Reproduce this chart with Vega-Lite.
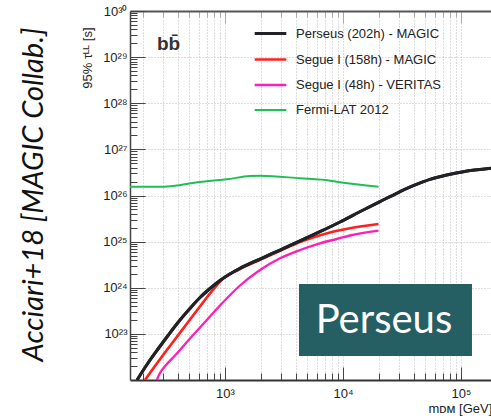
{
  "$schema": "https://vega.github.io/schema/vega-lite/v6.json",
  "width": 361,
  "height": 369,
  "autosize": {"type": "none"},
  "padding": {"left": 130, "top": 11, "right": 0, "bottom": 38},
  "background": "white",
  "config": {"view": {"stroke": null}, "font": "Liberation Sans"},
  "resolve": {"axis": {"x": "independent", "y": "independent"}},
  "datasets": {
    "curves": [
      {"s": "Fermi-LAT 2012", "m": 156.7, "t": 1.552e26},
      {"s": "Fermi-LAT 2012", "m": 300, "t": 1.552e26},
      {"s": "Fermi-LAT 2012", "m": 614, "t": 1.963e26},
      {"s": "Fermi-LAT 2012", "m": 1033, "t": 2.244e26},
      {"s": "Fermi-LAT 2012", "m": 1629, "t": 2.649e26},
      {"s": "Fermi-LAT 2012", "m": 1982, "t": 2.685e26},
      {"s": "Fermi-LAT 2012", "m": 4325, "t": 2.36e26},
      {"s": "Fermi-LAT 2012", "m": 7762, "t": 2.094e26},
      {"s": "Fermi-LAT 2012", "m": 9441, "t": 1.932e26},
      {"s": "Fermi-LAT 2012", "m": 20000, "t": 1.552e26},
      {"s": "Segue I (48h) - VERITAS", "m": 263.8, "t": 1e22},
      {"s": "Segue I (48h) - VERITAS", "m": 281.3, "t": 1.418e22},
      {"s": "Segue I (48h) - VERITAS", "m": 316.2, "t": 2.114e22},
      {"s": "Segue I (48h) - VERITAS", "m": 376.9, "t": 3.396e22},
      {"s": "Segue I (48h) - VERITAS", "m": 505.0, "t": 7.943e22},
      {"s": "Segue I (48h) - VERITAS", "m": 676.8, "t": 1.809e23},
      {"s": "Segue I (48h) - VERITAS", "m": 907.2, "t": 4.121e23},
      {"s": "Segue I (48h) - VERITAS", "m": 1340, "t": 1.119e24},
      {"s": "Segue I (48h) - VERITAS", "m": 1980, "t": 2.425e24},
      {"s": "Segue I (48h) - VERITAS", "m": 2925, "t": 4.35e24},
      {"s": "Segue I (48h) - VERITAS", "m": 4322, "t": 6.583e24},
      {"s": "Segue I (48h) - VERITAS", "m": 6384, "t": 9.196e24},
      {"s": "Segue I (48h) - VERITAS", "m": 8843, "t": 1.14e25},
      {"s": "Segue I (48h) - VERITAS", "m": 11460, "t": 1.357e25},
      {"s": "Segue I (48h) - VERITAS", "m": 20000, "t": 1.726e25},
      {"s": "Segue I (158h) - MAGIC", "m": 209.9, "t": 1e22},
      {"s": "Segue I (158h) - MAGIC", "m": 255.2, "t": 2.012e22},
      {"s": "Segue I (158h) - MAGIC", "m": 310.0, "t": 3.945e22},
      {"s": "Segue I (158h) - MAGIC", "m": 384.3, "t": 8.139e22},
      {"s": "Segue I (158h) - MAGIC", "m": 476.4, "t": 1.678e23},
      {"s": "Segue I (158h) - MAGIC", "m": 590.4, "t": 3.462e23},
      {"s": "Segue I (158h) - MAGIC", "m": 717.8, "t": 6.625e23},
      {"s": "Segue I (158h) - MAGIC", "m": 823.0, "t": 1.012e24},
      {"s": "Segue I (158h) - MAGIC", "m": 907.2, "t": 1.366e24},
      {"s": "Segue I (158h) - MAGIC", "m": 1340, "t": 2.55e24},
      {"s": "Segue I (158h) - MAGIC", "m": 1980, "t": 4.036e24},
      {"s": "Segue I (158h) - MAGIC", "m": 2925, "t": 6.324e24},
      {"s": "Segue I (158h) - MAGIC", "m": 4322, "t": 9.817e24},
      {"s": "Segue I (158h) - MAGIC", "m": 5570, "t": 1.229e25},
      {"s": "Segue I (158h) - MAGIC", "m": 7760, "t": 1.577e25},
      {"s": "Segue I (158h) - MAGIC", "m": 11460, "t": 1.945e25},
      {"s": "Segue I (158h) - MAGIC", "m": 20000, "t": 2.41e25},
      {"s": "Perseus (202h) - MAGIC", "m": 179.6, "t": 1e22},
      {"s": "Perseus (202h) - MAGIC", "m": 222.6, "t": 2.336e22},
      {"s": "Perseus (202h) - MAGIC", "m": 270.5, "t": 4.699e22},
      {"s": "Perseus (202h) - MAGIC", "m": 328.8, "t": 9.226e22},
      {"s": "Perseus (202h) - MAGIC", "m": 399.6, "t": 1.766e23},
      {"s": "Perseus (202h) - MAGIC", "m": 495.4, "t": 3.373e23},
      {"s": "Perseus (202h) - MAGIC", "m": 614.0, "t": 6.152e23},
      {"s": "Perseus (202h) - MAGIC", "m": 746.4, "t": 9.638e23},
      {"s": "Perseus (202h) - MAGIC", "m": 907.2, "t": 1.435e24},
      {"s": "Perseus (202h) - MAGIC", "m": 1340, "t": 2.642e24},
      {"s": "Perseus (202h) - MAGIC", "m": 1980, "t": 4.198e24},
      {"s": "Perseus (202h) - MAGIC", "m": 2925, "t": 6.577e24},
      {"s": "Perseus (202h) - MAGIC", "m": 4322, "t": 1.033e25},
      {"s": "Perseus (202h) - MAGIC", "m": 6384, "t": 1.641e25},
      {"s": "Perseus (202h) - MAGIC", "m": 9432, "t": 2.661e25},
      {"s": "Perseus (202h) - MAGIC", "m": 14860, "t": 4.853e25},
      {"s": "Perseus (202h) - MAGIC", "m": 20590, "t": 7.345e25},
      {"s": "Perseus (202h) - MAGIC", "m": 28520, "t": 1.117e26},
      {"s": "Perseus (202h) - MAGIC", "m": 39430, "t": 1.629e26},
      {"s": "Perseus (202h) - MAGIC", "m": 54610, "t": 2.244e26},
      {"s": "Perseus (202h) - MAGIC", "m": 75650, "t": 2.78e26},
      {"s": "Perseus (202h) - MAGIC", "m": 104600, "t": 3.281e26},
      {"s": "Perseus (202h) - MAGIC", "m": 179600, "t": 3.89e26}
    ]
  },
  "layer": [
    {
      "data": {"values": [{"m1": 4236, "m2": 123900, "t1": 3.311e22, "t2": 1.205e24}]},
      "mark": {"type": "rect", "color": "#255e63"},
      "encoding": {
        "x": {"field": "m1", "type": "quantitative", "scale": {"type": "log", "domain": [156.6, 179600], "nice": false},
          "axis": {"orient": "top", "title": null, "labels": false, "grid": false,
            "values": [200,300,400,500,600,700,800,900,1000,2000,3000,4000,5000,6000,7000,8000,9000,10000,20000,30000,40000,50000,60000,70000,80000,90000,100000],
            "tickSize": {"condition": {"test": "abs(log(datum.value)/LN10 - round(log(datum.value)/LN10)) < 0.01", "value": -12}, "value": -6},
            "tickColor": "#aaaaaa", "tickWidth": 1, "domainColor": "#555555", "domainWidth": 2}},
        "x2": {"field": "m2"},
        "y": {"field": "t1", "type": "quantitative", "scale": {"type": "log", "domain": [1e22, 1e30], "nice": false}, "axis": null},
        "y2": {"field": "t2"}
      }
    },
    {
      "data": {"name": "curves"},
      "mark": {"type": "line", "clip": true, "interpolate": "monotone"},
      "encoding": {
        "x": {"field": "m", "type": "quantitative", "scale": {"type": "log", "domain": [156.6, 179600], "nice": false},
          "axis": {"orient": "bottom", "title": "mᴅᴍ [GeV]",
            "values": [200,300,400,500,600,700,800,900,1000,2000,3000,4000,5000,6000,7000,8000,9000,10000,20000,30000,40000,50000,60000,70000,80000,90000,100000],
            "labelExpr": "abs(log(datum.value)/LN10 - round(log(datum.value)/LN10)) < 0.01 ? '10' + (round(log(datum.value)/LN10) >= 10 ? substring('⁰¹²³⁴⁵⁶⁷⁸⁹', floor(round(log(datum.value)/LN10)/10), floor(round(log(datum.value)/LN10)/10) + 1) : '') + substring('⁰¹²³⁴⁵⁶⁷⁸⁹', round(log(datum.value)/LN10) % 10, round(log(datum.value)/LN10) % 10 + 1) : ''",
            "tickSize": {"condition": {"test": "abs(log(datum.value)/LN10 - round(log(datum.value)/LN10)) < 0.01", "value": -13}, "value": -7},
            "tickColor": "#444444", "tickWidth": 1, "domainColor": "#333333", "domainWidth": 2,
            "grid": true, "gridColor": "#bdbdbd", "gridDash": [1, 2], "gridWidth": 1,
            "labelFontSize": 13, "labelColor": "#222222", "labelPadding": 20, "labelFlush": false,
            "titleFontSize": 13, "titleFontWeight": "normal", "titleColor": "#222222",
            "titleAlign": "left", "titleBaseline": "alphabetic", "titleX": 298, "titleY": 32}},
        "y": {"field": "t", "type": "quantitative", "scale": {"type": "log", "domain": [1e22, 1e30], "nice": false},
          "axis": {"orient": "left", "title": "95% τᴸᴸ [s]",
            "values": [2e22,3e22,4e22,5e22,6e22,7e22,8e22,9e22,1e23,2e23,3e23,4e23,5e23,6e23,7e23,8e23,9e23,1e24,2e24,3e24,4e24,5e24,6e24,7e24,8e24,9e24,1e25,2e25,3e25,4e25,5e25,6e25,7e25,8e25,9e25,1e26,2e26,3e26,4e26,5e26,6e26,7e26,8e26,9e26,1e27,2e27,3e27,4e27,5e27,6e27,7e27,8e27,9e27,1e28,2e28,3e28,4e28,5e28,6e28,7e28,8e28,9e28,1e29,2e29,3e29,4e29,5e29,6e29,7e29,8e29,9e29,1e30],
            "labelExpr": "abs(log(datum.value)/LN10 - round(log(datum.value)/LN10)) < 0.01 ? '10' + (round(log(datum.value)/LN10) >= 10 ? substring('⁰¹²³⁴⁵⁶⁷⁸⁹', floor(round(log(datum.value)/LN10)/10), floor(round(log(datum.value)/LN10)/10) + 1) : '') + substring('⁰¹²³⁴⁵⁶⁷⁸⁹', round(log(datum.value)/LN10) % 10, round(log(datum.value)/LN10) % 10 + 1) : ''",
            "tickSize": {"condition": {"test": "abs(log(datum.value)/LN10 - round(log(datum.value)/LN10)) < 0.01", "value": -15}, "value": -7},
            "tickColor": "#444444", "tickWidth": 1, "domainColor": "#444444", "domainWidth": 1.5,
            "grid": true, "gridColor": "#bdbdbd", "gridDash": [1, 2], "gridWidth": 1,
            "gridOpacity": {"condition": {"test": "abs(log(datum.value)/LN10 - round(log(datum.value)/LN10)) < 0.01", "value": 1}, "value": 0},
            "labelFontSize": 13, "labelColor": "#222222", "labelPadding": 18, "labelFlush": false,
            "titleFontSize": 13, "titleFontWeight": "normal", "titleColor": "#222222",
            "titleAngle": 270, "titleAlign": "right", "titleBaseline": "alphabetic", "titleX": -39, "titleY": 16}},
        "color": {"field": "s", "type": "nominal",
          "scale": {"domain": ["Perseus (202h) - MAGIC", "Segue I (158h) - MAGIC", "Segue I (48h) - VERITAS", "Fermi-LAT 2012"],
                    "range": ["#222226", "#ff1f1f", "#ff1fb4", "#1fbf55"]},
          "legend": {"orient": "none", "legendX": 123, "legendY": 5, "title": null, "symbolType": "stroke",
            "symbolSize": 1000, "labelFontSize": 13, "labelColor": "#222222", "labelOffset": 8, "rowPadding": 1}},
        "strokeWidth": {"field": "s", "type": "nominal",
          "scale": {"domain": ["Perseus (202h) - MAGIC", "Segue I (158h) - MAGIC", "Segue I (48h) - VERITAS", "Fermi-LAT 2012"],
                    "range": [3, 2, 2, 2.5]},
          "legend": {"orient": "none", "legendX": 123, "legendY": 5, "title": null, "symbolType": "stroke",
            "symbolSize": 1000, "labelFontSize": 13, "labelColor": "#222222", "labelOffset": 8, "rowPadding": 1}}
      }
    },
    {
      "data": {"name": "curves"},
      "transform": [{"filter": "datum.s == 'Perseus (202h) - MAGIC'"}],
      "mark": {"type": "line", "clip": true, "interpolate": "monotone", "color": "#222226", "strokeWidth": 3},
      "encoding": {
        "x": {"field": "m", "type": "quantitative", "scale": {"type": "log", "domain": [156.6, 179600], "nice": false}, "axis": null},
        "y": {"field": "t", "type": "quantitative", "scale": {"type": "log", "domain": [1e22, 1e30], "nice": false}, "axis": null}
      }
    },
    {
      "data": {"values": [{"label": "Perseus", "m": 22230, "t": 1.045e23}]},
      "mark": {"type": "text", "align": "center", "baseline": "alphabetic", "font": "Lato", "fontSize": 40, "color": "#ffffff"},
      "encoding": {
        "x": {"field": "m", "type": "quantitative", "scale": {"type": "log", "domain": [156.6, 179600], "nice": false}, "axis": null},
        "y": {"field": "t", "type": "quantitative", "scale": {"type": "log", "domain": [1e22, 1e30], "nice": false}, "axis": null},
        "text": {"field": "label"}
      }
    },
    {
      "data": {"values": [{"label": "bb̄", "m": 265, "t": 1.43e29}]},
      "mark": {"type": "text", "align": "left", "baseline": "alphabetic", "fontSize": 19, "fontWeight": "bold", "color": "#333333"},
      "encoding": {
        "x": {"field": "m", "type": "quantitative", "scale": {"type": "log", "domain": [156.6, 179600], "nice": false}, "axis": null},
        "y": {"field": "t", "type": "quantitative", "scale": {"type": "log", "domain": [1e22, 1e30], "nice": false}, "axis": null},
        "text": {"field": "label"}
      }
    },
    {
      "data": {"values": [{"label": "Acciari+18 [MAGIC Collab.]", "m": 28.7, "t": 1.05e26}]},
      "mark": {"type": "text", "align": "center", "baseline": "alphabetic", "angle": 270, "font": "Lato", "fontStyle": "italic", "fontSize": 29, "color": "#111111"},
      "encoding": {
        "x": {"field": "m", "type": "quantitative", "scale": {"type": "log", "domain": [156.6, 179600], "nice": false}, "axis": null},
        "y": {"field": "t", "type": "quantitative", "scale": {"type": "log", "domain": [1e22, 1e30], "nice": false}, "axis": null},
        "text": {"field": "label"}
      }
    }
  ]
}
